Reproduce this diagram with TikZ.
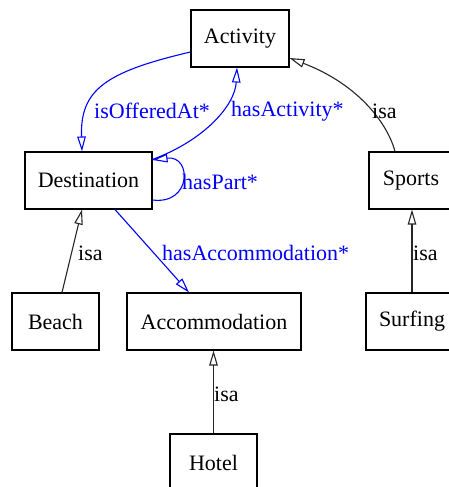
\documentclass[tikz,border=0pt]{standalone}
\usepackage{fontspec}
\setmainfont{Liberation Serif}
\usetikzlibrary{arrows.meta}
\begin{document}
\begin{tikzpicture}[x=1pt,y=-1pt,
  box/.style={draw=black,line width=1.1pt,minimum height=57pt,inner sep=0pt,font=\fontsize{22}{26}\selectfont},
  edge/.style={line width=1.1pt,draw=black!85,-{Triangle[open,length=15pt,width=8.5pt]}},
  blueedge/.style={line width=1.1pt,draw=blue,-{Triangle[open,length=15pt,width=8.5pt]}},
  lbl/.style={anchor=west,inner sep=0pt,font=\fontsize{22}{26}\selectfont},
  bluelbl/.style={lbl,text=blue}]
\useasboundingbox (0,0) rectangle (449,487);
\clip (0,0) rectangle (449,487);
\node[box,minimum width=98pt] (act) at (240,38.5) {Activity};
\node[box,minimum width=127pt] (dest) at (88.5,180.5) {Destination};
\node[box,minimum width=84pt] (sports) at (411,180.5) {Sports};
\node[box,minimum width=87pt] (beach) at (55.5,321.5) {Beach};
\node[box,minimum width=174pt] (acc) at (214,321.5) {Accommodation};
\node[box,minimum width=92pt] (surf) at (412,321.5) {Surfing};
\node[box,minimum width=87pt] (hotel) at (213.5,462.5) {Hotel};
% blue edges
\draw[blueedge] ([yshift=-13.5pt]act.west) .. controls (105,72) and (80,90) .. ([xshift=-6.5pt]dest.north);
\draw[blueedge] ([yshift=-8pt]dest.north east) .. controls (205,140) and (235,105) .. ([xshift=-3pt]act.south);
\draw[blueedge] ([yshift=-19.5pt]dest.east) .. controls (192,205) and (192,155) .. ([yshift=20.5pt]dest.east);
\draw[blueedge] ([xshift=26.5pt]dest.south) -- ([xshift=-25pt]acc.north);
% isa edges
\draw[edge] ([xshift=-16pt]sports.north) .. controls (388,125) and (360,85) .. ([yshift=-19.5pt]act.east);
\draw[edge] ([xshift=6.5pt]beach.north) -- ([xshift=-6.5pt]dest.south);
\draw[edge] (surf.north) -- (surf.north |- sports.south);
\draw[edge] (hotel.north) -- (hotel.north |- acc.south);
% labels
\node[bluelbl] (l1) at (94,111) {isOfferedAt*};
\node[bluelbl] (l2) at (231,111) {hasActivity*};
\node[bluelbl] (l3) at (182,182) {hasPart*};
\node[bluelbl] (l4) at (162,253) {hasAccommodation*};
\node[lbl] (l5) at (372,111) {isa};
\node[lbl] (l6) at (78,253) {isa};
\node[lbl] (l7) at (413,253) {isa};
\node[lbl] (l8) at (214,394) {isa};
\end{tikzpicture}
\end{document}
